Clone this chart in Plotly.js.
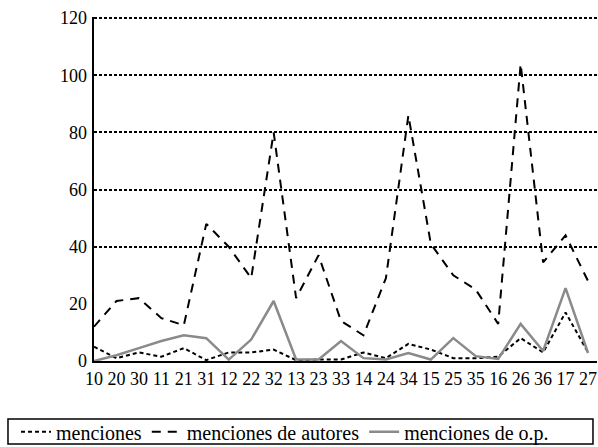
<!DOCTYPE html>
<html>
<head>
<meta charset="utf-8">
<script src="https://cdn.plot.ly/plotly-3.0.1.min.js"></script>
<style>
html,body{margin:0;padding:0;background:#fff;}
#chart{width:598px;height:447px;}
#prime{position:absolute;left:0;top:0;font-family:'Liberation Serif';font-size:20px;color:#fff;white-space:nowrap;}
</style>
</head>
<body>
<div id="prime">menciones de autores o.p. 0123456789</div>
<div id="chart"></div>
<script>
var categories = ["10","20","30","11","21","31","12","22","32","13","23","33","14","24","34","15","25","35","16","26","36","17","27"];
var menciones = [5,1,3,1.5,4.5,0.3,3,3,4,0.3,0.5,0.5,3,1,6,4,1,1,1.5,8,3,17,3];
var mencionesAutores = [12,21,22,15,12.5,48,40,29,80,22,37,14,9,29,86,41,30,25,13,104,34.5,44,28];
var mencionesOP = [0,2,4.5,7,9,8,0.5,7.5,21,0.5,0.5,7,1,0.5,2.8,0.5,8,1.7,0.7,13,3.5,25.5,2.8];
var yTicks = [0,20,40,60,80,100,120];
var gridTicks = [40,60,80,100,120];

var fam = "Liberation Serif";
var traces = [
  {x: categories, y: menciones, name: "menciones", type: "scatter", mode: "lines",
   line: {color: "#000", width: 2, dash: "4px,3px"}},
  {x: categories, y: mencionesAutores, name: "menciones de autores", type: "scatter", mode: "lines",
   line: {color: "#000", width: 2, dash: "9px,7px"}},
  {x: categories, y: mencionesOP, name: "menciones de o.p.", type: "scatter", mode: "lines",
   line: {color: "#8a8a8a", width: 2.5}},
  {x: [], y: [], yaxis: "y2", showlegend: false, hoverinfo: "skip", type: "scatter", mode: "lines"}
];
var layout = {
  width: 598, height: 447,
  margin: {l: 94, r: 1, t: 17, b: 86, autoexpand: false},
  paper_bgcolor: "#fff", plot_bgcolor: "#fff",
  font: {family: fam},
  showlegend: true,
  xaxis: {type: "category", range: [0, 22.4], showgrid: false, zeroline: false,
          showline: true, linecolor: "#000", linewidth: 2, ticks: "",
          tickfont: {family: fam, size: 18, color: "#000"}},
  yaxis: {range: [0, 120.4], tickvals: yTicks, showgrid: false, zeroline: false,
          showline: true, linecolor: "#000", linewidth: 2.5, ticks: "",
          ticklabelstandoff: 1,
          tickfont: {family: fam, size: 18, color: "#000"}},
  yaxis2: {overlaying: "y", range: [0, 120.4], tickvals: gridTicks, showticklabels: false,
           showgrid: true, gridcolor: "#000", gridwidth: 2, griddash: "3px,2px",
           zeroline: false, showline: false, ticks: ""},
  legend: {orientation: "h", x: -0.155, xanchor: "left", y: -0.206, yanchor: "middle",
           borderwidth: 0, bgcolor: "rgba(0,0,0,0)",
           font: {family: fam, size: 20, color: "#000"}, itemwidth: 30,
           traceorder: "normal"},
  shapes: [{type: "rect", xref: "paper", yref: "paper", x0: -0.171, x1: 0.992, y0: -0.1686, y1: -0.241,
            line: {color: "#000", width: 1.5}, fillcolor: "rgba(0,0,0,0)"}]
};
var config = {displayModeBar: false, staticPlot: true};
var prime = document.getElementById("prime");
var primeWidth = prime.offsetWidth;
Plotly.newPlot("chart", traces, layout, config);
function removePrime() {
  var p = document.getElementById("prime");
  if (p && p.parentNode) p.parentNode.removeChild(p);
}
removePrime();
</script>
</body>
</html>
